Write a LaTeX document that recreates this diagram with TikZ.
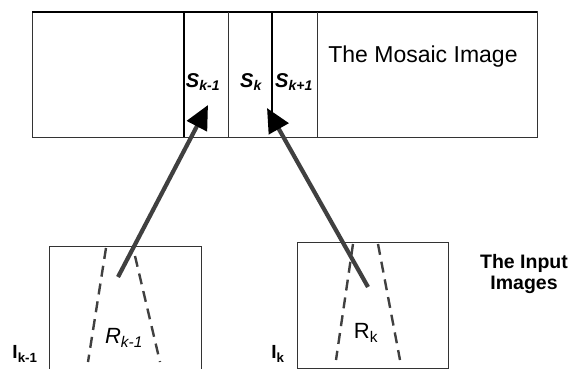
\documentclass[tikz,border=0pt]{standalone}
\usepackage{fontspec}
\setmainfont{Liberation Sans}
\usetikzlibrary{arrows.meta}

\tikzset{
  frame/.style={line width=1pt, black!80},
  band/.style={line width=1.6pt, black},
  conearm/.style={line width=2.4pt, black!75, dash pattern=on 11pt off 7pt},
  mapping/.style={line width=4.2pt, black!75,
    -{Triangle[length=24pt,width=22pt,color=black]}},
  lbl/.style={inner sep=0pt}
}

\begin{document}
\begin{tikzpicture}[x=1pt,y=-1pt]
  \useasboundingbox (0,0) rectangle (576,369);
  % mosaic image with its strips
  \draw[frame] (32,12) rectangle (537,137);
  \draw[line width=2.6pt] (32,12) -- (537,12);
  \draw[band] (184,12) -- (184,137);
  \draw[frame] (228,12) -- (228,137);
  \draw[band] (272,12) -- (272,116);
  \draw[frame] (317,12) -- (317,137);
  \node[lbl, font=\fontsize{20}{22}\selectfont\bfseries\itshape] (sprev) at (203,82) {S\textsubscript{k-1}};
  \node[lbl, font=\fontsize{20}{22}\selectfont\bfseries\itshape] (scur) at (251,82) {S\textsubscript{k}};
  \node[lbl, font=\fontsize{20}{22}\selectfont\bfseries\itshape] (snext) at (294,82) {S\textsubscript{k+1}};
  \node[lbl, font=\fontsize{23}{26}\selectfont] (mosaic) at (423,57) {The Mosaic Image};

  % input images
  \draw[frame] (49,369) -- (49,246) -- (201,246) -- (201,369);
  \draw[frame] (297,242) rectangle (448,368);
  \draw[conearm] (106,248) -- (88,362);
  \draw[conearm] (135,256) -- (160,362);
  \draw[conearm] (353,244) -- (336,360);
  \draw[conearm] (378,244) -- (400,360);
  \node[lbl, font=\fontsize{22}{24}\selectfont\itshape] (rprev) at (124,338) {R\textsubscript{k-1}};
  \node[lbl, font=\fontsize{22}{24}\selectfont] (rcur) at (366,333) {R\textsubscript{k}};
  \node[lbl, font=\fontsize{19}{21}\selectfont\bfseries] (iprev) at (25,354) {I\textsubscript{k-1}};
  \node[lbl, font=\fontsize{19}{21}\selectfont\bfseries] (icur) at (278,354) {I\textsubscript{k}};
  \node[lbl, font=\fontsize{19.5}{21}\selectfont\bfseries, align=center] (inputs) at (524,274) {The Input\\Images};

  % mappings into the strips
  \coordinate (tailprev) at (118,277);
  \coordinate (tipprev) at (208,105);
  \coordinate (tailcur) at (368,287);
  \coordinate (tipcur) at (267,108);
  \draw[mapping] (tailprev) -- (tipprev);
  \draw[mapping] (tailcur) -- (tipcur);
\end{tikzpicture}
\end{document}
